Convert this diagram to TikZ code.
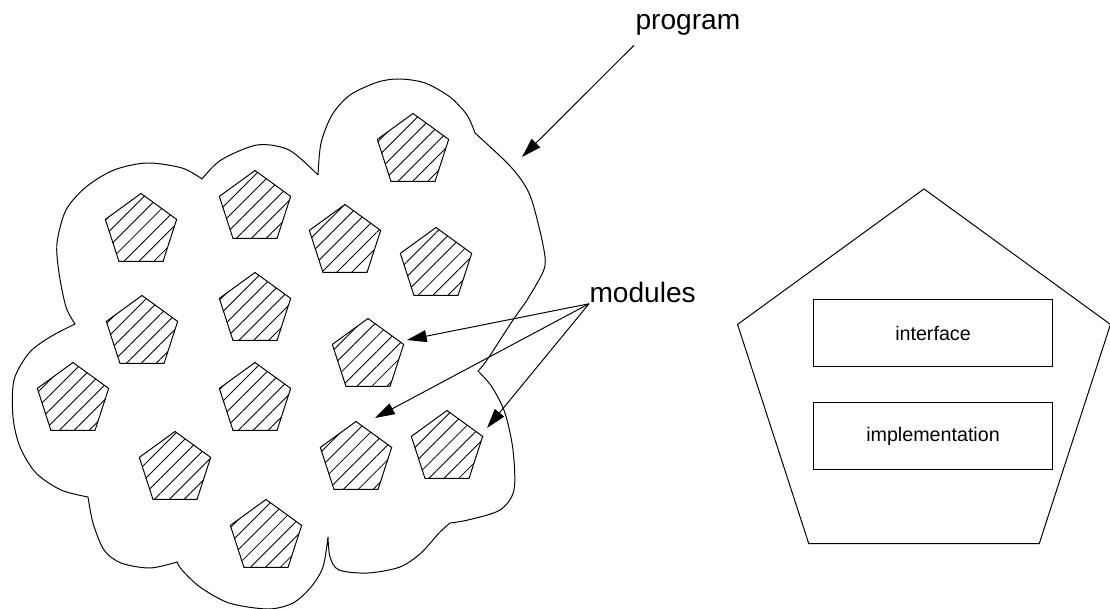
\documentclass[tikz,border=0pt]{standalone}
\usepackage{fontspec}
\setmainfont{Liberation Sans}
\usetikzlibrary{shapes.geometric,patterns.meta,arrows.meta,positioning}

\begin{document}
\begin{tikzpicture}[x=0.025cm,y=-0.025cm,line width=0.7pt,
    module/.style={draw,regular polygon,regular polygon sides=5,minimum size=1.875cm,inner sep=0pt,
        pattern={Lines[angle=45,distance=7.5pt,line width=0.6pt]}},
    part/.style={draw,minimum width=5.95cm,minimum height=1.675cm,font=\fontsize{14}{17}\selectfont},
    lbl/.style={inner sep=0pt,anchor=base west,font=\fontsize{20}{24}\selectfont},
    pointer/.style={-{Triangle[length=14pt,width=8.5pt]}}]
\useasboundingbox (0,0) rectangle (1110,609);
% the program, drawn lobe by lobe
\draw plot[smooth] coordinates {(318,175) (321,143) (332,115) (350,95) (378,82) (400,79) (425,83) (450,97) (467,115) (475,133)}
    -- plot[smooth] coordinates {(475,133) (511,167) (529,193) (539,227) (545,257) (543,272) (527,300) (513,320) (487,360) (478,371)}
    -- plot[smooth] coordinates {(478,371) (492,387) (505,413) (513,450) (514,490) (500,510) (468,520) (450,523)}
    -- plot[smooth] coordinates {(450,523) (439,533) (421,553) (400,567) (368,573) (339,570) (330,557) (328,537)}
    -- plot[smooth] coordinates {(328,537) (323,567) (311,587) (293,603) (268,609) (229,603) (200,587) (182,570) (177,562)}
    -- plot[smooth] coordinates {(177,562) (150,568) (121,563) (104,550) (93,523) (88,497)}
    -- plot[smooth] coordinates {(88,497) (61,490) (36,473) (20,447) (13,417) (14,380) (29,353) (50,337) (75,324)}
    -- plot[smooth] coordinates {(75,324) (66,307) (59,273) (57,243) (66,210) (86,187) (114,170) (147,163) (182,168) (202,179)}
    -- plot[smooth] coordinates {(202,179) (221,160) (257,145) (289,150) (318,175)};
% modules
\foreach \x/\y [count=\i] in {413/151,255/208,141/231,345/242,436/265,255/310,142/333,
    368/356,73/400,255/400,175/469,356/459,447/448,266/537}
    \node [module] (m\i) at (\x,\y) {};
% one module, opened
\node [draw,regular polygon,regular polygon sides=5,minimum size=9.8cm] (mod) at (924,385) {};
\node [part] (iface) at (933,333) {interface};
\node [part,below=0.875cm of iface] (impl) {implementation};
% labels
\node [lbl] (prog) at (635,30) {program};
\node [lbl] (mods) at (589,303) {modules};
\coordinate (tp) at (522,157);
\coordinate (t1) at (407,340);
\coordinate (t2) at (375,418);
\coordinate (t3) at (487,428);
\draw [pointer] (prog.south west) ++(-1,9) -- (tp);
\foreach \t in {t1,t2,t3}
    \draw [pointer] (mods.south west) -- (\t);
\end{tikzpicture}
\end{document}
